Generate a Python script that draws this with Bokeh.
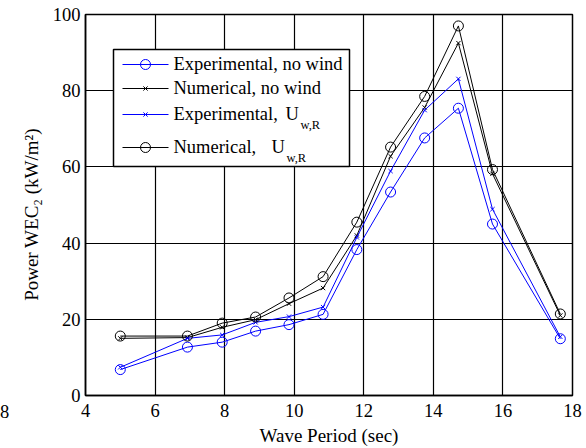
from bokeh.plotting import figure
from bokeh.models import FixedTicker, Range1d, Div
from bokeh.layouts import column
from bokeh.core.properties import value
from bokeh.embed import file_html
from bokeh.resources import INLINE

period = [5.0, 6.93, 7.93, 8.89, 9.85, 10.83, 11.8, 12.77, 13.75, 14.72, 15.7, 17.65]
exp_no_wind = [6.8, 12.7, 14.0, 16.9, 18.6, 21.3, 38.3, 53.4, 67.6, 75.4, 45.0, 14.9]
num_no_wind = [15.0, 15.2, 17.9, 19.9, 24.1, 28.2, 42.0, 62.8, 75.6, 92.5, 58.2, 21.0]
exp_wind = [7.4, 15.0, 15.9, 19.2, 20.7, 23.2, 41.5, 58.9, 74.9, 83.1, 48.9, 15.4]
num_wind = [15.6, 15.6, 19.0, 20.6, 25.6, 31.2, 45.5, 65.2, 78.5, 97.0, 59.3, 21.4]

legend_main = ["Experimental, no wind", "Numerical, no wind", "Experimental,", "Numerical,"]
legend_u = ["", "", "U", "U"]
subscript = "w,R"
edge_label = "8"   # clipped tick label of a neighbouring panel

x_ticks = [4, 6, 8, 10, 12, 14, 16, 18]
y_ticks = [0, 20, 40, 60, 80, 100]

FONT = "Liberation Serif"
BLUE = "#0000ff"

X0, X1, Y0, Y1 = 4, 18, 0, 100
FL, FT, FW, FH = 85, 14, 487, 381  # frame left/top/width/height in px

p = figure(frame_width=FW, frame_height=FH, min_border_left=FL, min_border_right=586 - FL - FW,
           min_border_top=FT, min_border_bottom=448 - FT - FH, output_backend="svg",
           toolbar_location=None, x_range=Range1d(X0, X1), y_range=Range1d(Y0, Y1))
p.background_fill_color = "white"
p.border_fill_color = "white"
p.outline_line_color = "black"
p.outline_line_width = 1.5

for ax in (p.xaxis, p.yaxis):
    ax.major_label_text_font = FONT
    ax.major_label_text_font_size = "18.5px"
    ax.major_label_text_color = "black"
    ax.axis_label_text_font = FONT
    ax.axis_label_text_font_size = "19px"
    ax.axis_label_text_font_style = "normal"
    ax.axis_label_text_color = "black"
    ax.major_tick_in = 0
    ax.major_tick_out = 0
    ax.minor_tick_in = 0
    ax.minor_tick_out = 0
    ax.axis_line_color = "black"
    ax.axis_line_width = 1.5

p.xaxis.major_label_standoff = 8
p.yaxis.major_label_standoff = 5
p.xaxis.ticker = FixedTicker(ticks=x_ticks)
p.yaxis.ticker = FixedTicker(ticks=y_ticks)
p.xaxis.axis_label = "Wave Period (sec)"
p.yaxis.axis_label = "Power WEC\u2082 (kW/m\u00b2)\u00a0\u00a0\u00a0\u00a0"
p.xaxis.axis_label_standoff = 5
p.yaxis.axis_label_standoff = 8

p.xgrid.ticker = FixedTicker(ticks=x_ticks)
p.ygrid.ticker = FixedTicker(ticks=y_ticks)
for g in (p.xgrid, p.ygrid):
    g.grid_line_color = "black"
    g.grid_line_alpha = 1.0
    g.grid_line_width = 1.2

styles = [
    dict(color=BLUE, marker="circle", size=10),
    dict(color="black", marker="x", size=6),
    dict(color=BLUE, marker="x", size=6),
    dict(color="black", marker="circle", size=10),
]
series = [exp_no_wind, num_no_wind, exp_wind, num_wind]

for ys, st in zip(series, styles):
    p.line(period, ys, line_color=st["color"], line_width=1)
    p.scatter(period, ys, marker=st["marker"], size=st["size"], fill_color=None,
              line_color=st["color"], line_width=1)


# ---- legend drawn by hand (pixel layout converted to data space) ----
def dx(px):
    return X0 + (px - FL) * (X1 - X0) / FW


def dy(py):
    return Y1 - (py - FT) * (Y1 - Y0) / FH


p.quad(left=[dx(113)], right=[dx(349)], top=[dy(49)], bottom=[dy(166)],
       fill_color="white", line_color="black", line_width=1.5)

rows_py = [64, 88, 114, 147]
u_px = [0, 0, 285, 271]
sub_px = [0, 0, 300, 286]
txt = dict(text_font=value(FONT), text_font_size="18.5px", text_color="black",
           text_baseline="middle", text_align="left")
for i, (ry, st) in enumerate(zip(rows_py, styles)):
    p.line([dx(122), dx(168)], [dy(ry), dy(ry)], line_color=st["color"], line_width=1)
    p.scatter([dx(145)], [dy(ry)], marker=st["marker"], size=st["size"], fill_color=None,
              line_color=st["color"], line_width=1)
    p.text([dx(173)], [dy(ry - 1)], text=[legend_main[i]], **txt)
    if legend_u[i]:
        p.text([dx(u_px[i])], [dy(ry - 1)], text=[legend_u[i]], **txt)
        p.text([dx(sub_px[i])], [dy(ry + 10)], text=[subscript], text_font=value(FONT),
               text_font_size="12.5px", text_color="black", text_baseline="middle",
               text_align="left")

edge = Div(text=edge_label, width=12, height=20, margin=(-46, 0, 0, 0),
           styles={"font-family": FONT, "font-size": "18.5px", "line-height": "20px",
                   "color": "black"})

layout = column(p, edge, spacing=0)
open("out.html", "w").write(file_html(layout, INLINE))
